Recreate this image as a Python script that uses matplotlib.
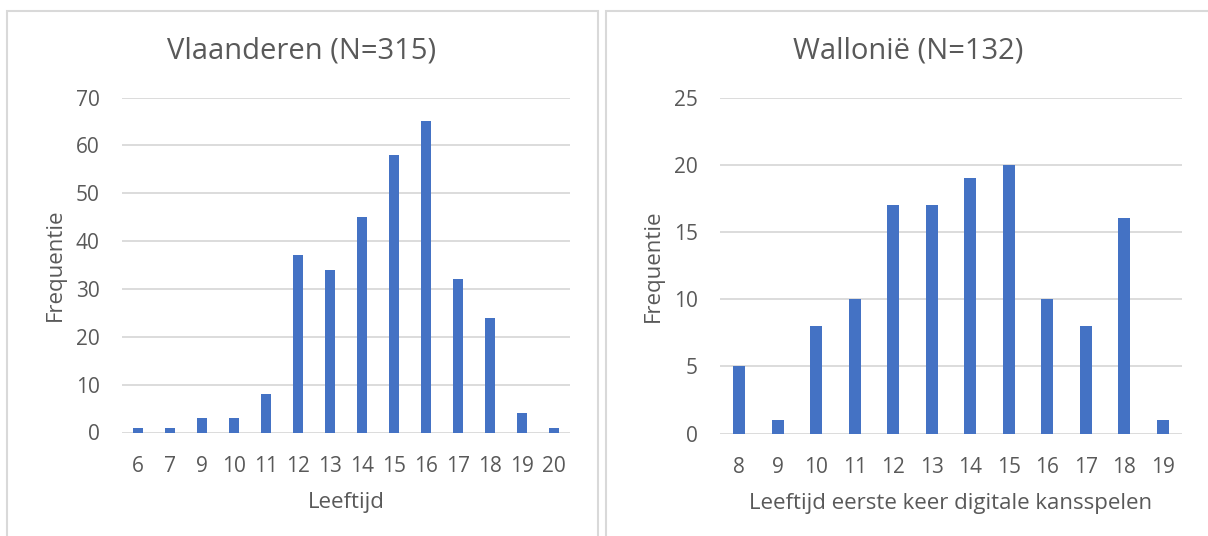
import matplotlib.pyplot as plt
from matplotlib.patches import Rectangle

plt.rcParams['font.family'] = ['Open Sans', 'DejaVu Sans']

# Vlaanderen
vl_leeftijd = ['6', '7', '9', '10', '11', '12', '13', '14', '15', '16', '17', '18', '19', '20']
vl_freq = [1, 1, 3, 3, 8, 37, 34, 45, 58, 65, 32, 24, 4, 1]

# Wallonië
wa_leeftijd = ['8', '9', '10', '11', '12', '13', '14', '15', '16', '17', '18', '19']
wa_freq = [5, 1, 8, 10, 17, 17, 19, 20, 10, 8, 16, 1]

blauw = '#4472C4'
tekst = '#595959'
raster = '#D9D9D9'

W, H = 1208, 536
fig = plt.figure(figsize=(W / 100, H / 100), dpi=100)

# kaders rond de twee grafieken
fig.add_artist(Rectangle((7.5 / W, -0.05), 590.5 / W, 1.05 - 11.5 / H,
                         transform=fig.transFigure, fill=False, ec=raster, lw=1.5))
fig.add_artist(Rectangle((605.5 / W, -0.05), 620 / W, 1.05 - 11.5 / H,
                         transform=fig.transFigure, fill=False, ec=raster, lw=1.5))


def teken(ax, labels, waarden, ymax, stap, breedte, xlabel):
    ax.bar(range(len(labels)), waarden, width=breedte, color=blauw, zorder=3)
    ax.set_xlim(-0.5, len(labels) - 0.5)
    ax.set_ylim(0, ymax)
    ax.set_yticks(range(0, ymax + 1, stap))
    ax.set_xticks(range(len(labels)))
    ax.set_xticklabels(labels)
    ax.grid(axis='y', color=raster, lw=1.3, zorder=0)
    for s in ax.spines.values():
        s.set_visible(False)
    ax.tick_params(length=0, labelsize=15, labelcolor=tekst)
    ax.tick_params(axis='y', pad=16)
    ax.tick_params(axis='x', pad=17)
    ax.set_xlabel(xlabel, fontsize=16, color=tekst, labelpad=11)
    ax.set_ylabel('Frequentie', fontsize=16, color=tekst, labelpad=7)


ax1 = fig.add_axes([122 / W, 1 - 432.5 / H, 448 / W, 335 / H])
teken(ax1, vl_leeftijd, vl_freq, 70, 10, 0.33, 'Leeftijd')

ax2 = fig.add_axes([720 / W, 1 - 433.5 / H, 462 / W, 336 / H])
teken(ax2, wa_leeftijd, wa_freq, 25, 5, 0.32, 'Leeftijd eerste keer digitale kansspelen')

fig.text(302 / W, 1 - 51 / H, 'Vlaanderen (N=315)', ha='center', va='center',
         fontsize=21, color=tekst)
fig.text(908 / W, 1 - 51 / H, 'Wallonië (N=132)', ha='center', va='center',
         fontsize=21, color=tekst)

plt.savefig('out.png', dpi=100)
